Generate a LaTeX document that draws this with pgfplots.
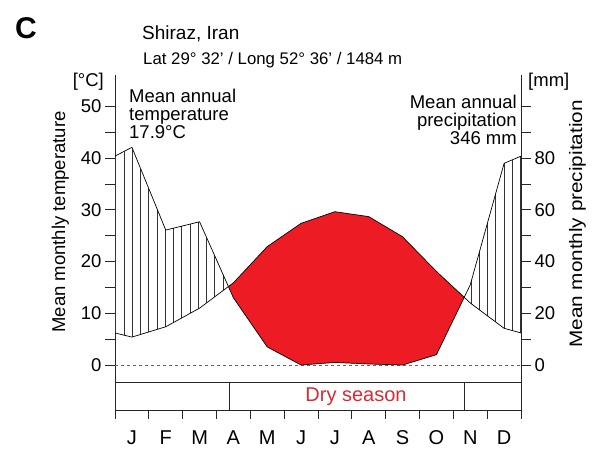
\documentclass[border=0pt]{standalone}
\usepackage{fontspec}
\setmainfont{Liberation Sans}
\usepackage{pgfplots}
\usepackage{pgfplotstable}
\pgfplotsset{compat=1.18}
\usepgfplotslibrary{fillbetween}
\usetikzlibrary{patterns.meta}
\definecolor{dryred}{RGB}{237,28,36}
\definecolor{drytext}{RGB}{212,43,54}
\newcommand\f[1]{\fontsize{#1pt}{#1pt}\selectfont}

% month position (0..12), temperature [degC], precipitation [mm]
\pgfplotstableread{
x T P
0 6.2 80.8
0.5 5.4 84.2
1.5 7.4 52.2
2.5 11.0 55.4
3.5 15.9 26
4.5 22.9 7
5.5 27.4 0
6.5 29.65 1
7.5 28.7 0.4
8.5 24.8 0
9.5 18.1 4
10.5 12.0 31
11.5 7.1 78
12 6.2 80.8
}\climate

\begin{document}
\begin{tikzpicture}
\path (0,0) rectangle (597pt,457pt);
\begin{axis}[
  at={(115pt,38pt)}, anchor=south west,
  scale only axis, width=406pt, height=344pt,
  xmin=0, xmax=12, ymin=-10.44, ymax=56.09,
  axis y line*=left, axis x line*=bottom,
  x axis line style={draw=none},
  y axis line style={line width=0.8pt, draw=black!85},
  xtick={0.5,1.5,...,11.5},
  xticklabels={J,F,M,A,M,J,J,A,S,O,N,D},
  x tick style={draw=none},
  xticklabel style={anchor=base, yshift=-16pt, inner sep=0pt, font=\f{20}},
  ytick={0,5,...,50},
  yticklabels={0,,10,,20,,30,,40,,50},
  tick align=outside, major tick length=10pt,
  y tick style={line width=0.8pt, black!85},
  yticklabel style={font=\f{18.5}},
  /pgf/number format/assume math mode=true,
]
\addplot[black!60, line width=0.6pt, dash pattern=on 3pt off 3pt, forget plot] coordinates {(0,0) (12,0)};
\addplot[draw=none, name path=T, forget plot] table[x=x, y=T] {\climate};
\addplot[draw=none, name path=P, forget plot] table[x=x, y expr=\thisrow{P}/2] {\climate};
\addplot[draw=none, fill=none, forget plot] fill between[of=P and T, split,
  every segment no 0/.style={pattern={Lines[angle=90,distance=8.26pt,line width=0.6pt]}, pattern color=black!80},
  every segment no 1/.style={fill=dryred},
  every segment no 2/.style={pattern={Lines[angle=90,distance=8.26pt,line width=0.6pt]}, pattern color=black!80}];
\addplot[line width=0.7pt, black] table[x=x, y=T] {\climate};
\addplot[line width=0.7pt, black] table[x=x, y expr=\thisrow{P}/2] {\climate};
\end{axis}
\begin{axis}[
  at={(115pt,38pt)}, anchor=south west,
  scale only axis, width=406pt, height=344pt,
  xmin=0, xmax=12, ymin=-20.88, ymax=112.18,
  axis y line*=right, axis x line*=bottom,
  x axis line style={draw=none},
  y axis line style={line width=0.8pt, draw=black!85},
  xtick=\empty,
  ytick={0,10,...,100},
  yticklabels={0,,20,,40,,60,,80,,},
  tick align=outside, major tick length=10pt,
  y tick style={line width=0.8pt, black!85},
  yticklabel style={font=\f{18.5}},
]
\addplot[draw=none, forget plot] table[x=x, y=P] {\climate};
\end{axis}
% dry season box and month separators
\begin{scope}[line width=0.8pt, black!85]
\draw (115pt,74.5pt) -- (521pt,74.5pt);
\draw (115pt,47pt) -- (521pt,47pt);
\draw (229.7pt,74.5pt) -- (229.7pt,47pt);
\draw (464.8pt,74.5pt) -- (464.8pt,47pt);
\foreach \k in {1,...,11} {\draw ({115pt+\k*33.833pt},47pt) -- ({115pt+\k*33.833pt},38pt);}
\end{scope}
\node[anchor=base west, inner sep=0pt, font=\bfseries\f{30}] at (15pt,418.7pt) {C};
\node[anchor=base west, inner sep=0pt, font=\f{19}] at (142pt,417pt) {Shiraz, Iran};
\node[anchor=base west, inner sep=0pt, font=\f{16.8}] at (143pt,392pt) {Lat 29° 32’ / Long 52° 36’ / 1484 m};
\node[anchor=base east, inner sep=0pt, font=\f{18.5}] at (104pt,370pt) {[°C]};
\node[anchor=base west, inner sep=0pt, font=\f{18.5}] at (528pt,370pt) {[mm]};
\node[anchor=base west, inner sep=0pt, font=\f{18.5}] at (129pt,354pt) {Mean annual};
\node[anchor=base west, inner sep=0pt, font=\f{18.5}] at (129pt,336pt) {temperature};
\node[anchor=base west, inner sep=0pt, font=\f{18.5}] at (129pt,318pt) {17.9°C};
\node[anchor=base east, inner sep=0pt, font=\f{18.5}] at (517pt,348pt) {Mean annual};
\node[anchor=base east, inner sep=0pt, font=\f{18.5}] at (517pt,330pt) {precipitation};
\node[anchor=base east, inner sep=0pt, font=\f{18.5}] at (517pt,312pt) {346 mm};
\node[anchor=base, rotate=90, inner sep=0pt, font=\f{18.5}] at (65pt,235pt) {Mean monthly temperature};
\node[anchor=base, rotate=90, inner sep=0pt, font=\f{18}] at (582pt,233pt) {\scalebox{1.15}[1]{Mean monthly precipitation}};
\node[anchor=base, inner sep=0pt, font=\f{20}, text=drytext] at (356pt,55pt) {Dry season};
\end{tikzpicture}
\end{document}
